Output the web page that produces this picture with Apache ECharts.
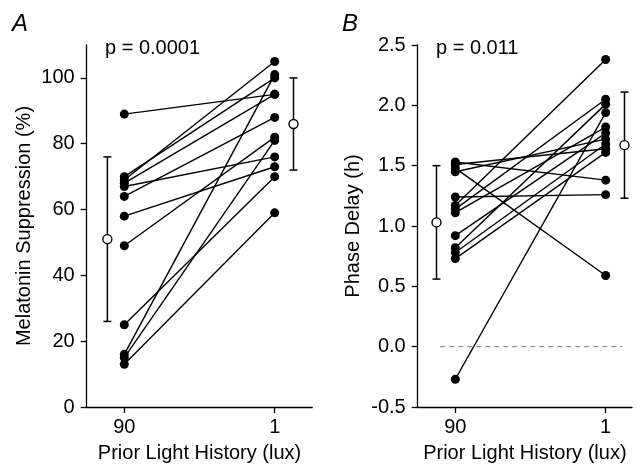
<!DOCTYPE html>
<html>
<head>
<meta charset="utf-8">
<script src="https://cdn.jsdelivr.net/npm/echarts@6/dist/echarts.min.js"></script>
<style>
  html, body { margin: 0; padding: 0; background: #fff; }
  #chart { width: 638px; height: 468px; }
</style>
</head>
<body>
<div id="chart"></div>
<script>
// x axis groups: where they sit on the value axis, and their labels
var groupPos = [1, 5];
var groupLabels = ["90", "1"];

// A: melatonin suppression (%), each subject 90 lux -> 1 lux
var melLow  = [89, 70, 69, 68, 67, 64, 58, 49, 25, 16, 15, 13];
var melHigh = [95, 100, 105, 95, 76, 88, 73, 82, 70, 101, 81, 59];
var melMean = [51, 86];
var melSd   = [25, 14];
var melTicks = [0, 20, 40, 60, 80, 100];

// B: phase delay (h)
var phLow  = [1.53, 1.51, 1.48, 1.45, 1.24, 1.17, 1.14, 1.11, 0.92, 0.82, 0.78, 0.73, -0.27];
var phHigh = [1.38, 1.64, 0.59, 1.72, 1.26, 2.38, 2.05, 1.82, 1.77, 2.01, 1.68, 1.61, 1.94];
var phMean = [1.03, 1.67];
var phSd   = [0.47, 0.44];
var phTicks = [-0.5, 0, 0.5, 1, 1.5, 2, 2.5];

(function () {
  var FONT = '"Liberation Sans", Arial, Helvetica, sans-serif';
  var myChart = echarts.init(document.getElementById('chart'));

  // mean +/- sd markers sit a bit outside the groups
  var meanPosA = [0.55, 5.5];
  var meanPosB = [0.5, 5.5];

  function pairSeries(low, high, idx) {
    return low.map(function (v, i) {
      return {
        type: 'line', xAxisIndex: idx, yAxisIndex: idx,
        data: [[groupPos[0], v], [groupPos[1], high[i]]],
        symbol: 'none', silent: true, z: 2,
        lineStyle: { color: '#000', width: 1.4 }
      };
    });
  }

  function pointSeries(low, high, idx) {
    var d = low.map(function (v) { return [groupPos[0], v]; })
      .concat(high.map(function (v) { return [groupPos[1], v]; }));
    return {
      type: 'scatter', xAxisIndex: idx, yAxisIndex: idx, data: d,
      symbolSize: 9, itemStyle: { color: '#000', opacity: 1 }, silent: true, z: 3
    };
  }

  function errorSeries(mean, sd, xs, idx) {
    return {
      type: 'custom', xAxisIndex: idx, yAxisIndex: idx, z: 4, silent: true, clip: false,
      data: mean.map(function (m, i) { return [xs[i], m - sd[i], m + sd[i], m]; }),
      renderItem: function (params, api) {
        var x = api.value(0);
        var lo = api.coord([x, api.value(1)]);
        var hi = api.coord([x, api.value(2)]);
        var c = api.coord([x, api.value(3)]);
        var w = 4;
        var st = { stroke: '#000', lineWidth: 1.5 };
        return {
          type: 'group',
          children: [
            { type: 'line', shape: { x1: lo[0], y1: lo[1], x2: hi[0], y2: hi[1] }, style: st },
            { type: 'line', shape: { x1: lo[0] - w, y1: lo[1], x2: lo[0] + w, y2: lo[1] }, style: st },
            { type: 'line', shape: { x1: hi[0] - w, y1: hi[1], x2: hi[0] + w, y2: hi[1] }, style: st },
            { type: 'circle', shape: { cx: c[0], cy: c[1], r: 4.5 },
              style: { fill: '#fff', stroke: '#000', lineWidth: 1.4 } }
          ]
        };
      }
    };
  }

  function xAxisCfg(idx, max) {
    return {
      type: 'value', gridIndex: idx, min: 0, max: max,
      name: 'Prior Light History (lux)', nameLocation: 'middle', nameGap: 36,
      nameTextStyle: { fontSize: 20, color: '#000', fontFamily: FONT },
      axisLine: { onZero: false, lineStyle: { color: '#000', width: 1.3 } },
      axisTick: { customValues: groupPos, length: 6, lineStyle: { color: '#000', width: 1.3 } },
      axisLabel: {
        customValues: groupPos, margin: 10, fontSize: 20, color: '#000', fontFamily: FONT,
        formatter: function (v) { return groupLabels[groupPos.indexOf(v)]; }
      },
      splitLine: { show: false }
    };
  }

  function yAxisCfg(idx, min, max, interval, ticks, name, gap, fmt) {
    return {
      type: 'value', gridIndex: idx, min: min, max: max, interval: interval,
      name: name, nameLocation: 'middle', nameGap: gap,
      nameTextStyle: { fontSize: 20, color: '#000', fontFamily: FONT },
      axisLine: { show: true, onZero: false, lineStyle: { color: '#000', width: 1.3 } },
      axisTick: { show: true, customValues: ticks, length: 6, lineStyle: { color: '#000', width: 1.3 } },
      axisLabel: { customValues: ticks, margin: 12, fontSize: 20, color: '#000', fontFamily: FONT, formatter: fmt },
      splitLine: { show: false }
    };
  }

  var series = []
    .concat(pairSeries(melLow, melHigh, 0))
    .concat([pointSeries(melLow, melHigh, 0), errorSeries(melMean, melSd, meanPosA, 0)])
    .concat([{
      // zero line in B
      type: 'line', xAxisIndex: 1, yAxisIndex: 1, data: [[0.6, 0], [5.45, 0]],
      symbol: 'none', silent: true, z: 1,
      lineStyle: { color: '#777', width: 1, type: [5, 4] }
    }])
    .concat(pairSeries(phLow, phHigh, 1))
    .concat([pointSeries(phLow, phHigh, 1), errorSeries(phMean, phSd, meanPosB, 1)]);

  var option = {
    animation: false,
    backgroundColor: '#fff',
    textStyle: { fontFamily: FONT },
    grid: [
      { left: 86.7, top: 45, width: 225.6, height: 363 },
      { left: 417.7, top: 45, width: 214.3, height: 363 }
    ],
    xAxis: [xAxisCfg(0, 6), xAxisCfg(1, 5.7)],
    yAxis: [
      yAxisCfg(0, 0, 110, 20, melTicks, 'Melatonin Suppression (%)', 52,
        function (v) { return String(v); }),
      yAxisCfg(1, -0.5, 2.5, 0.5, phTicks, 'Phase Delay (h)', 54,
        function (v) { return v.toFixed(1); })
    ],
    graphic: [
      { type: 'text', left: 12, top: 12, style: { text: 'A', font: 'italic 24px ' + FONT, fill: '#000' } },
      { type: 'text', left: 342, top: 12, style: { text: 'B', font: 'italic 24px ' + FONT, fill: '#000' } },
      { type: 'text', left: 105, top: 38, style: { text: 'p = 0.0001', font: '20px ' + FONT, fill: '#000' } },
      { type: 'text', left: 436, top: 38, style: { text: 'p = 0.011', font: '20px ' + FONT, fill: '#000' } }
    ],
    series: series
  };

  myChart.setOption(option);
  window.addEventListener('resize', function () {
    myChart.resize();
  });
})();
</script>
</body>
</html>
